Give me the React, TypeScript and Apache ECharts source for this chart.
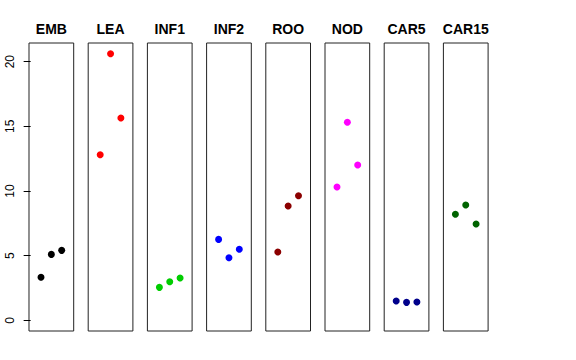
import React, { useEffect, useRef } from "react";
import * as echarts from "echarts";

const categories = ["EMB", "LEA", "INF1", "INF2", "ROO", "NOD", "CAR5", "CAR15"];
const colors = ["#000000", "#FF0000", "#00CD00", "#0000FF", "#8B0000", "#FF00FF", "#00008B", "#006400"];
const embValues = [3.33, 5.10, 5.41];
const leaValues = [12.81, 20.62, 15.65];
const inf1Values = [2.55, 2.99, 3.27];
const inf2Values = [6.26, 4.84, 5.49];
const rooValues = [5.28, 8.84, 9.64];
const nodValues = [10.31, 15.31, 12.01];
const car5Values = [1.49, 1.39, 1.42];
const car15Values = [8.20, 8.92, 7.45];
const seriesValues = [embValues, leaValues, inf1Values, inf2Values, rooValues, nodValues, car5Values, car15Values];
const xPositions = [1, 2, 3];
const yTicks = [0, 5, 10, 15, 20];

export default function App() {
  const ref = useRef<HTMLDivElement>(null);
  useEffect(() => {
    if (!ref.current) return;
    const chart = echarts.init(ref.current, null, { renderer: "svg" });
    const font = "Liberation Sans, Arial, Helvetica, sans-serif";
    const allVals = seriesValues.flat();
    const yMin = 0;
    const yMax = Math.max(...allVals);
    const yPad = (yMax - yMin) * 0.04;
    const xPad = 4 * 0.04;
    const panelLeft0 = 29;
    const step = 59.2;
    const panelW = 44.7;
    const top = 43;
    const height = 288;

    const grids: any[] = [];
    const xAxes: any[] = [];
    const yAxes: any[] = [];
    const series: any[] = [];
    const graphics: any[] = [];
    categories.forEach((cat, i) => {
      const left = panelLeft0 + i * step;
      grids.push({
        left, top, width: panelW, height,
        show: true, borderColor: "#222", borderWidth: 1, backgroundColor: "transparent",
      });
      xAxes.push({ type: "value", gridIndex: i, min: 0 - xPad, max: 4 + xPad, show: false });
      yAxes.push({
        type: "value", gridIndex: i, min: yMin - yPad, max: yMax + yPad,
        show: i === 0,
        splitLine: { show: false },
        axisLine: { show: false },
        axisTick: { show: true, length: 7, inside: false, customValues: yTicks, lineStyle: { color: "#000" } },
        axisLabel: {
          show: true, customValues: yTicks, rotate: 90, margin: 13,
          color: "#000", fontSize: 12, fontFamily: font,
        },
      });
      series.push({
        type: "scatter", xAxisIndex: i, yAxisIndex: i,
        data: seriesValues[i].map((v, j) => [xPositions[j], v]),
        symbol: "circle", symbolSize: 7,
        itemStyle: { color: colors[i], opacity: 1 },
        silent: true,
      });
      graphics.push({
        type: "text", x: left + panelW / 2, y: 29,
        style: {
          text: cat, fill: "#000", font: `bold 14px ${font}`,
          align: "center", verticalAlign: "middle",
          textAlign: "center", textVerticalAlign: "middle",
        },
      });
    });

    chart.setOption({
      animation: false,
      backgroundColor: "#fff",
      grid: grids,
      xAxis: xAxes,
      yAxis: yAxes,
      series,
      graphic: graphics,
    });
    return () => chart.dispose();
  }, []);
  return <div ref={ref} style={{ position: "fixed", left: 0, top: 0, width: 576, height: 360 }} />;
}
